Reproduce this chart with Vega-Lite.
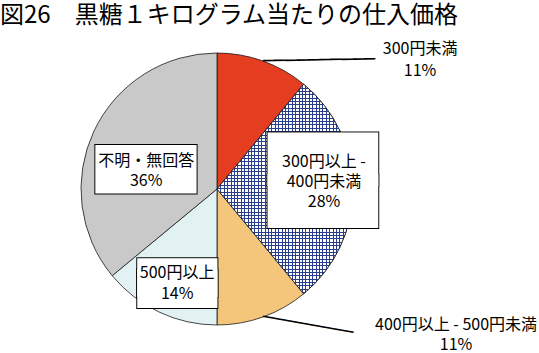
{"$schema":"https://vega.github.io/schema/vega-lite/v6.json","width":434,"height":298,"autosize":{"type":"none"},"padding":{"left":0,"top":40,"right":105,"bottom":15},"background":"white","title":{"text":"図26　黒糖１キログラム当たりの仕入価格","anchor":"start","frame":"group","font":"Noto Sans CJK JP","fontSize":24,"fontWeight":"normal","color":"black","offset":12},"data":{"values":[{"category":"300円未満","percent":11},{"category":"300円以上 - 400円未満","percent":28},{"category":"400円以上 - 500円未満","percent":11},{"category":"500円以上","percent":14},{"category":"不明・無回答","percent":36}]},"transform":[{"stack":"percent","groupby":[],"as":["s0","s1"]},{"calculate":"(datum.s0 + datum.s1) / 2","as":"mid"},{"calculate":"datum.category + '\\n' + datum.percent + '%'","as":"lab"}],"config":{"view":{"stroke":null}},"layer":[{"mark":{"type":"arc","radius":136,"stroke":"#1a1a1a","strokeWidth":0.8},"encoding":{"theta":{"field":"s0","type":"quantitative","scale":{"domain":[0,100]},"stack":null},"theta2":{"field":"s1"},"color":{"field":"category","type":"nominal","legend":null,"scale":{"domain":["300円未満","300円以上 - 400円未満","400円以上 - 500円未満","500円以上","不明・無回答"],"range":["#e43d20","#ffffff","#f3c67c","#e2f1f1","#c9c9c9"]}}}},{"transform":[{"filter":"datum.category === '300円以上 - 400円未満'"}],"mark":{"type":"arc","radius":136,"fill":{"gradient":"linear","x1":0,"y1":0,"x2":1,"y2":0,"stops":[{"offset":0,"color":"#2a3e8e"},{"offset":0.0074,"color":"#2a3e8e"},{"offset":0.0074,"color":"#fff"},{"offset":0.025,"color":"#fff"},{"offset":0.025,"color":"#2a3e8e"},{"offset":0.0324,"color":"#2a3e8e"},{"offset":0.0324,"color":"#fff"},{"offset":0.05,"color":"#fff"},{"offset":0.05,"color":"#2a3e8e"},{"offset":0.0574,"color":"#2a3e8e"},{"offset":0.0574,"color":"#fff"},{"offset":0.075,"color":"#fff"},{"offset":0.075,"color":"#2a3e8e"},{"offset":0.0824,"color":"#2a3e8e"},{"offset":0.0824,"color":"#fff"},{"offset":0.1,"color":"#fff"},{"offset":0.1,"color":"#2a3e8e"},{"offset":0.1074,"color":"#2a3e8e"},{"offset":0.1074,"color":"#fff"},{"offset":0.125,"color":"#fff"},{"offset":0.125,"color":"#2a3e8e"},{"offset":0.1324,"color":"#2a3e8e"},{"offset":0.1324,"color":"#fff"},{"offset":0.15,"color":"#fff"},{"offset":0.15,"color":"#2a3e8e"},{"offset":0.1574,"color":"#2a3e8e"},{"offset":0.1574,"color":"#fff"},{"offset":0.175,"color":"#fff"},{"offset":0.175,"color":"#2a3e8e"},{"offset":0.1824,"color":"#2a3e8e"},{"offset":0.1824,"color":"#fff"},{"offset":0.2,"color":"#fff"},{"offset":0.2,"color":"#2a3e8e"},{"offset":0.2074,"color":"#2a3e8e"},{"offset":0.2074,"color":"#fff"},{"offset":0.225,"color":"#fff"},{"offset":0.225,"color":"#2a3e8e"},{"offset":0.2324,"color":"#2a3e8e"},{"offset":0.2324,"color":"#fff"},{"offset":0.25,"color":"#fff"},{"offset":0.25,"color":"#2a3e8e"},{"offset":0.2574,"color":"#2a3e8e"},{"offset":0.2574,"color":"#fff"},{"offset":0.275,"color":"#fff"},{"offset":0.275,"color":"#2a3e8e"},{"offset":0.2824,"color":"#2a3e8e"},{"offset":0.2824,"color":"#fff"},{"offset":0.3,"color":"#fff"},{"offset":0.3,"color":"#2a3e8e"},{"offset":0.3074,"color":"#2a3e8e"},{"offset":0.3074,"color":"#fff"},{"offset":0.325,"color":"#fff"},{"offset":0.325,"color":"#2a3e8e"},{"offset":0.3324,"color":"#2a3e8e"},{"offset":0.3324,"color":"#fff"},{"offset":0.35,"color":"#fff"},{"offset":0.35,"color":"#2a3e8e"},{"offset":0.3574,"color":"#2a3e8e"},{"offset":0.3574,"color":"#fff"},{"offset":0.375,"color":"#fff"},{"offset":0.375,"color":"#2a3e8e"},{"offset":0.3824,"color":"#2a3e8e"},{"offset":0.3824,"color":"#fff"},{"offset":0.4,"color":"#fff"},{"offset":0.4,"color":"#2a3e8e"},{"offset":0.4074,"color":"#2a3e8e"},{"offset":0.4074,"color":"#fff"},{"offset":0.425,"color":"#fff"},{"offset":0.425,"color":"#2a3e8e"},{"offset":0.4324,"color":"#2a3e8e"},{"offset":0.4324,"color":"#fff"},{"offset":0.45,"color":"#fff"},{"offset":0.45,"color":"#2a3e8e"},{"offset":0.4574,"color":"#2a3e8e"},{"offset":0.4574,"color":"#fff"},{"offset":0.475,"color":"#fff"},{"offset":0.475,"color":"#2a3e8e"},{"offset":0.4824,"color":"#2a3e8e"},{"offset":0.4824,"color":"#fff"},{"offset":0.5,"color":"#fff"},{"offset":0.5,"color":"#2a3e8e"},{"offset":0.5074,"color":"#2a3e8e"},{"offset":0.5074,"color":"#fff"},{"offset":0.525,"color":"#fff"},{"offset":0.525,"color":"#2a3e8e"},{"offset":0.5324,"color":"#2a3e8e"},{"offset":0.5324,"color":"#fff"},{"offset":0.55,"color":"#fff"},{"offset":0.55,"color":"#2a3e8e"},{"offset":0.5574,"color":"#2a3e8e"},{"offset":0.5574,"color":"#fff"},{"offset":0.575,"color":"#fff"},{"offset":0.575,"color":"#2a3e8e"},{"offset":0.5824,"color":"#2a3e8e"},{"offset":0.5824,"color":"#fff"},{"offset":0.6,"color":"#fff"},{"offset":0.6,"color":"#2a3e8e"},{"offset":0.6074,"color":"#2a3e8e"},{"offset":0.6074,"color":"#fff"},{"offset":0.625,"color":"#fff"},{"offset":0.625,"color":"#2a3e8e"},{"offset":0.6324,"color":"#2a3e8e"},{"offset":0.6324,"color":"#fff"},{"offset":0.65,"color":"#fff"},{"offset":0.65,"color":"#2a3e8e"},{"offset":0.6574,"color":"#2a3e8e"},{"offset":0.6574,"color":"#fff"},{"offset":0.675,"color":"#fff"},{"offset":0.675,"color":"#2a3e8e"},{"offset":0.6824,"color":"#2a3e8e"},{"offset":0.6824,"color":"#fff"},{"offset":0.7,"color":"#fff"},{"offset":0.7,"color":"#2a3e8e"},{"offset":0.7074,"color":"#2a3e8e"},{"offset":0.7074,"color":"#fff"},{"offset":0.725,"color":"#fff"},{"offset":0.725,"color":"#2a3e8e"},{"offset":0.7324,"color":"#2a3e8e"},{"offset":0.7324,"color":"#fff"},{"offset":0.75,"color":"#fff"},{"offset":0.75,"color":"#2a3e8e"},{"offset":0.7574,"color":"#2a3e8e"},{"offset":0.7574,"color":"#fff"},{"offset":0.775,"color":"#fff"},{"offset":0.775,"color":"#2a3e8e"},{"offset":0.7824,"color":"#2a3e8e"},{"offset":0.7824,"color":"#fff"},{"offset":0.8,"color":"#fff"},{"offset":0.8,"color":"#2a3e8e"},{"offset":0.8074,"color":"#2a3e8e"},{"offset":0.8074,"color":"#fff"},{"offset":0.825,"color":"#fff"},{"offset":0.825,"color":"#2a3e8e"},{"offset":0.8324,"color":"#2a3e8e"},{"offset":0.8324,"color":"#fff"},{"offset":0.85,"color":"#fff"},{"offset":0.85,"color":"#2a3e8e"},{"offset":0.8574,"color":"#2a3e8e"},{"offset":0.8574,"color":"#fff"},{"offset":0.875,"color":"#fff"},{"offset":0.875,"color":"#2a3e8e"},{"offset":0.8824,"color":"#2a3e8e"},{"offset":0.8824,"color":"#fff"},{"offset":0.9,"color":"#fff"},{"offset":0.9,"color":"#2a3e8e"},{"offset":0.9074,"color":"#2a3e8e"},{"offset":0.9074,"color":"#fff"},{"offset":0.925,"color":"#fff"},{"offset":0.925,"color":"#2a3e8e"},{"offset":0.9324,"color":"#2a3e8e"},{"offset":0.9324,"color":"#fff"},{"offset":0.95,"color":"#fff"},{"offset":0.95,"color":"#2a3e8e"},{"offset":0.9574,"color":"#2a3e8e"},{"offset":0.9574,"color":"#fff"},{"offset":0.975,"color":"#fff"},{"offset":0.975,"color":"#2a3e8e"},{"offset":0.9824,"color":"#2a3e8e"},{"offset":0.9824,"color":"#fff"},{"offset":1,"color":"#fff"}]}},"encoding":{"theta":{"field":"s0","type":"quantitative","stack":null},"theta2":{"field":"s1"}}},{"transform":[{"filter":"datum.category === '300円以上 - 400円未満'"}],"mark":{"type":"arc","radius":136,"stroke":"#1a1a1a","strokeWidth":0.8,"fill":{"gradient":"linear","x1":0,"y1":0,"x2":0,"y2":1,"stops":[{"offset":0,"color":"#2a3e8e"},{"offset":0.0048,"color":"#2a3e8e"},{"offset":0.0048,"color":"#0000"},{"offset":0.016,"color":"#0000"},{"offset":0.016,"color":"#2a3e8e"},{"offset":0.0208,"color":"#2a3e8e"},{"offset":0.0208,"color":"#0000"},{"offset":0.032,"color":"#0000"},{"offset":0.032,"color":"#2a3e8e"},{"offset":0.0368,"color":"#2a3e8e"},{"offset":0.0368,"color":"#0000"},{"offset":0.048,"color":"#0000"},{"offset":0.048,"color":"#2a3e8e"},{"offset":0.0528,"color":"#2a3e8e"},{"offset":0.0528,"color":"#0000"},{"offset":0.064,"color":"#0000"},{"offset":0.064,"color":"#2a3e8e"},{"offset":0.0688,"color":"#2a3e8e"},{"offset":0.0688,"color":"#0000"},{"offset":0.08,"color":"#0000"},{"offset":0.08,"color":"#2a3e8e"},{"offset":0.0848,"color":"#2a3e8e"},{"offset":0.0848,"color":"#0000"},{"offset":0.096,"color":"#0000"},{"offset":0.096,"color":"#2a3e8e"},{"offset":0.1008,"color":"#2a3e8e"},{"offset":0.1008,"color":"#0000"},{"offset":0.112,"color":"#0000"},{"offset":0.112,"color":"#2a3e8e"},{"offset":0.1168,"color":"#2a3e8e"},{"offset":0.1168,"color":"#0000"},{"offset":0.128,"color":"#0000"},{"offset":0.128,"color":"#2a3e8e"},{"offset":0.1328,"color":"#2a3e8e"},{"offset":0.1328,"color":"#0000"},{"offset":0.144,"color":"#0000"},{"offset":0.144,"color":"#2a3e8e"},{"offset":0.1488,"color":"#2a3e8e"},{"offset":0.1488,"color":"#0000"},{"offset":0.16,"color":"#0000"},{"offset":0.16,"color":"#2a3e8e"},{"offset":0.1648,"color":"#2a3e8e"},{"offset":0.1648,"color":"#0000"},{"offset":0.176,"color":"#0000"},{"offset":0.176,"color":"#2a3e8e"},{"offset":0.1808,"color":"#2a3e8e"},{"offset":0.1808,"color":"#0000"},{"offset":0.192,"color":"#0000"},{"offset":0.192,"color":"#2a3e8e"},{"offset":0.1968,"color":"#2a3e8e"},{"offset":0.1968,"color":"#0000"},{"offset":0.208,"color":"#0000"},{"offset":0.208,"color":"#2a3e8e"},{"offset":0.2128,"color":"#2a3e8e"},{"offset":0.2128,"color":"#0000"},{"offset":0.224,"color":"#0000"},{"offset":0.224,"color":"#2a3e8e"},{"offset":0.2288,"color":"#2a3e8e"},{"offset":0.2288,"color":"#0000"},{"offset":0.24,"color":"#0000"},{"offset":0.24,"color":"#2a3e8e"},{"offset":0.2448,"color":"#2a3e8e"},{"offset":0.2448,"color":"#0000"},{"offset":0.256,"color":"#0000"},{"offset":0.256,"color":"#2a3e8e"},{"offset":0.2608,"color":"#2a3e8e"},{"offset":0.2608,"color":"#0000"},{"offset":0.272,"color":"#0000"},{"offset":0.272,"color":"#2a3e8e"},{"offset":0.2768,"color":"#2a3e8e"},{"offset":0.2768,"color":"#0000"},{"offset":0.288,"color":"#0000"},{"offset":0.288,"color":"#2a3e8e"},{"offset":0.2928,"color":"#2a3e8e"},{"offset":0.2928,"color":"#0000"},{"offset":0.304,"color":"#0000"},{"offset":0.304,"color":"#2a3e8e"},{"offset":0.3088,"color":"#2a3e8e"},{"offset":0.3088,"color":"#0000"},{"offset":0.32,"color":"#0000"},{"offset":0.32,"color":"#2a3e8e"},{"offset":0.3248,"color":"#2a3e8e"},{"offset":0.3248,"color":"#0000"},{"offset":0.336,"color":"#0000"},{"offset":0.336,"color":"#2a3e8e"},{"offset":0.3408,"color":"#2a3e8e"},{"offset":0.3408,"color":"#0000"},{"offset":0.352,"color":"#0000"},{"offset":0.352,"color":"#2a3e8e"},{"offset":0.3568,"color":"#2a3e8e"},{"offset":0.3568,"color":"#0000"},{"offset":0.368,"color":"#0000"},{"offset":0.368,"color":"#2a3e8e"},{"offset":0.3728,"color":"#2a3e8e"},{"offset":0.3728,"color":"#0000"},{"offset":0.384,"color":"#0000"},{"offset":0.384,"color":"#2a3e8e"},{"offset":0.3888,"color":"#2a3e8e"},{"offset":0.3888,"color":"#0000"},{"offset":0.4,"color":"#0000"},{"offset":0.4,"color":"#2a3e8e"},{"offset":0.4048,"color":"#2a3e8e"},{"offset":0.4048,"color":"#0000"},{"offset":0.416,"color":"#0000"},{"offset":0.416,"color":"#2a3e8e"},{"offset":0.4208,"color":"#2a3e8e"},{"offset":0.4208,"color":"#0000"},{"offset":0.432,"color":"#0000"},{"offset":0.432,"color":"#2a3e8e"},{"offset":0.4368,"color":"#2a3e8e"},{"offset":0.4368,"color":"#0000"},{"offset":0.448,"color":"#0000"},{"offset":0.448,"color":"#2a3e8e"},{"offset":0.4528,"color":"#2a3e8e"},{"offset":0.4528,"color":"#0000"},{"offset":0.464,"color":"#0000"},{"offset":0.464,"color":"#2a3e8e"},{"offset":0.4688,"color":"#2a3e8e"},{"offset":0.4688,"color":"#0000"},{"offset":0.48,"color":"#0000"},{"offset":0.48,"color":"#2a3e8e"},{"offset":0.4848,"color":"#2a3e8e"},{"offset":0.4848,"color":"#0000"},{"offset":0.496,"color":"#0000"},{"offset":0.496,"color":"#2a3e8e"},{"offset":0.5008,"color":"#2a3e8e"},{"offset":0.5008,"color":"#0000"},{"offset":0.512,"color":"#0000"},{"offset":0.512,"color":"#2a3e8e"},{"offset":0.5168,"color":"#2a3e8e"},{"offset":0.5168,"color":"#0000"},{"offset":0.528,"color":"#0000"},{"offset":0.528,"color":"#2a3e8e"},{"offset":0.5328,"color":"#2a3e8e"},{"offset":0.5328,"color":"#0000"},{"offset":0.544,"color":"#0000"},{"offset":0.544,"color":"#2a3e8e"},{"offset":0.5488,"color":"#2a3e8e"},{"offset":0.5488,"color":"#0000"},{"offset":0.56,"color":"#0000"},{"offset":0.56,"color":"#2a3e8e"},{"offset":0.5648,"color":"#2a3e8e"},{"offset":0.5648,"color":"#0000"},{"offset":0.576,"color":"#0000"},{"offset":0.576,"color":"#2a3e8e"},{"offset":0.5808,"color":"#2a3e8e"},{"offset":0.5808,"color":"#0000"},{"offset":0.592,"color":"#0000"},{"offset":0.592,"color":"#2a3e8e"},{"offset":0.5968,"color":"#2a3e8e"},{"offset":0.5968,"color":"#0000"},{"offset":0.608,"color":"#0000"},{"offset":0.608,"color":"#2a3e8e"},{"offset":0.6128,"color":"#2a3e8e"},{"offset":0.6128,"color":"#0000"},{"offset":0.624,"color":"#0000"},{"offset":0.624,"color":"#2a3e8e"},{"offset":0.6288,"color":"#2a3e8e"},{"offset":0.6288,"color":"#0000"},{"offset":0.64,"color":"#0000"},{"offset":0.64,"color":"#2a3e8e"},{"offset":0.6448,"color":"#2a3e8e"},{"offset":0.6448,"color":"#0000"},{"offset":0.656,"color":"#0000"},{"offset":0.656,"color":"#2a3e8e"},{"offset":0.6608,"color":"#2a3e8e"},{"offset":0.6608,"color":"#0000"},{"offset":0.672,"color":"#0000"},{"offset":0.672,"color":"#2a3e8e"},{"offset":0.6768,"color":"#2a3e8e"},{"offset":0.6768,"color":"#0000"},{"offset":0.688,"color":"#0000"},{"offset":0.688,"color":"#2a3e8e"},{"offset":0.6928,"color":"#2a3e8e"},{"offset":0.6928,"color":"#0000"},{"offset":0.704,"color":"#0000"},{"offset":0.704,"color":"#2a3e8e"},{"offset":0.7088,"color":"#2a3e8e"},{"offset":0.7088,"color":"#0000"},{"offset":0.72,"color":"#0000"},{"offset":0.72,"color":"#2a3e8e"},{"offset":0.7248,"color":"#2a3e8e"},{"offset":0.7248,"color":"#0000"},{"offset":0.736,"color":"#0000"},{"offset":0.736,"color":"#2a3e8e"},{"offset":0.7408,"color":"#2a3e8e"},{"offset":0.7408,"color":"#0000"},{"offset":0.752,"color":"#0000"},{"offset":0.752,"color":"#2a3e8e"},{"offset":0.7568,"color":"#2a3e8e"},{"offset":0.7568,"color":"#0000"},{"offset":0.768,"color":"#0000"},{"offset":0.768,"color":"#2a3e8e"},{"offset":0.7728,"color":"#2a3e8e"},{"offset":0.7728,"color":"#0000"},{"offset":0.784,"color":"#0000"},{"offset":0.784,"color":"#2a3e8e"},{"offset":0.7888,"color":"#2a3e8e"},{"offset":0.7888,"color":"#0000"},{"offset":0.8,"color":"#0000"},{"offset":0.8,"color":"#2a3e8e"},{"offset":0.8048,"color":"#2a3e8e"},{"offset":0.8048,"color":"#0000"},{"offset":0.816,"color":"#0000"},{"offset":0.816,"color":"#2a3e8e"},{"offset":0.8208,"color":"#2a3e8e"},{"offset":0.8208,"color":"#0000"},{"offset":0.832,"color":"#0000"},{"offset":0.832,"color":"#2a3e8e"},{"offset":0.8368,"color":"#2a3e8e"},{"offset":0.8368,"color":"#0000"},{"offset":0.848,"color":"#0000"},{"offset":0.848,"color":"#2a3e8e"},{"offset":0.8528,"color":"#2a3e8e"},{"offset":0.8528,"color":"#0000"},{"offset":0.864,"color":"#0000"},{"offset":0.864,"color":"#2a3e8e"},{"offset":0.8688,"color":"#2a3e8e"},{"offset":0.8688,"color":"#0000"},{"offset":0.88,"color":"#0000"},{"offset":0.88,"color":"#2a3e8e"},{"offset":0.8848,"color":"#2a3e8e"},{"offset":0.8848,"color":"#0000"},{"offset":0.896,"color":"#0000"},{"offset":0.896,"color":"#2a3e8e"},{"offset":0.9008,"color":"#2a3e8e"},{"offset":0.9008,"color":"#0000"},{"offset":0.912,"color":"#0000"},{"offset":0.912,"color":"#2a3e8e"},{"offset":0.9168,"color":"#2a3e8e"},{"offset":0.9168,"color":"#0000"},{"offset":0.928,"color":"#0000"},{"offset":0.928,"color":"#2a3e8e"},{"offset":0.9328,"color":"#2a3e8e"},{"offset":0.9328,"color":"#0000"},{"offset":0.944,"color":"#0000"},{"offset":0.944,"color":"#2a3e8e"},{"offset":0.9488,"color":"#2a3e8e"},{"offset":0.9488,"color":"#0000"},{"offset":0.96,"color":"#0000"},{"offset":0.96,"color":"#2a3e8e"},{"offset":0.9648,"color":"#2a3e8e"},{"offset":0.9648,"color":"#0000"},{"offset":0.976,"color":"#0000"},{"offset":0.976,"color":"#2a3e8e"},{"offset":0.9808,"color":"#2a3e8e"},{"offset":0.9808,"color":"#0000"},{"offset":0.992,"color":"#0000"},{"offset":0.992,"color":"#2a3e8e"},{"offset":0.9968,"color":"#2a3e8e"},{"offset":0.9968,"color":"#0000"},{"offset":1,"color":"#0000"}]}},"encoding":{"theta":{"field":"s0","type":"quantitative","stack":null},"theta2":{"field":"s1"}}},{"transform":[{"filter":"datum.category === '300円未満'"}],"mark":{"type":"text","text":"──────────","font":"DejaVu Sans Mono","fontSize":18.6,"align":"left","baseline":"middle","angle":359,"radius":136,"color":"black"},"encoding":{"theta":{"field":"mid","type":"quantitative"}}},{"transform":[{"filter":"datum.category === '400円以上 - 500円未満'"}],"mark":{"type":"text","text":"────────","font":"DejaVu Sans Mono","fontSize":19,"align":"left","baseline":"middle","angle":10,"radius":136,"color":"black"},"encoding":{"theta":{"field":"mid","type":"quantitative"}}},{"transform":[{"filter":"datum.category === '不明・無回答'"}],"mark":{"type":"text","text":"▬","font":"DejaVu Sans","fontSize":134,"fill":"white","stroke":"black","strokeWidth":1,"align":"center","baseline":"middle","radius":75,"dx":-3,"dy":6.5},"encoding":{"theta":{"field":"mid","type":"quantitative"}}},{"transform":[{"filter":"datum.category === '500円以上'"}],"mark":{"type":"text","text":"▬\n▬","lineBreak":"\n","lineHeight":11,"font":"DejaVu Sans","fontSize":105,"fill":"white","stroke":"black","strokeWidth":2,"align":"center","baseline":"middle","radius":103,"dx":4,"dy":-9.5},"encoding":{"theta":{"field":"mid","type":"quantitative"}}},{"transform":[{"filter":"datum.category === '500円以上'"}],"mark":{"type":"text","text":"▬\n▬","lineBreak":"\n","lineHeight":11,"font":"DejaVu Sans","fontSize":105,"fill":"white","align":"center","baseline":"middle","radius":103,"dx":4,"dy":-9.5},"encoding":{"theta":{"field":"mid","type":"quantitative"}}},{"transform":[{"filter":"datum.category === '300円以上 - 400円未満'"}],"mark":{"type":"text","text":"▬\n▬","lineBreak":"\n","lineHeight":42,"font":"DejaVu Sans","fontSize":145,"fill":"white","stroke":"black","strokeWidth":2,"align":"center","baseline":"middle","radius":106,"dy":-36},"encoding":{"theta":{"field":"mid","type":"quantitative"}}},{"transform":[{"filter":"datum.category === '300円以上 - 400円未満'"}],"mark":{"type":"text","text":"▬\n▬","lineBreak":"\n","lineHeight":42,"font":"DejaVu Sans","fontSize":145,"fill":"white","align":"center","baseline":"middle","radius":106,"dy":-36},"encoding":{"theta":{"field":"mid","type":"quantitative"}}},{"transform":[{"filter":"datum.category === '不明・無回答'"}],"mark":{"type":"text","font":"Noto Sans CJK JP","fontSize":16,"lineHeight":20,"lineBreak":"\n","align":"center","baseline":"middle","color":"black","radius":75,"dx":-3,"dy":4},"encoding":{"theta":{"field":"mid","type":"quantitative"},"text":{"field":"lab"}}},{"transform":[{"filter":"datum.category === '500円以上'"}],"mark":{"type":"text","font":"Noto Sans CJK JP","fontSize":16,"lineHeight":21,"lineBreak":"\n","align":"center","baseline":"middle","color":"black","radius":103,"dx":4,"dy":-9.5},"encoding":{"theta":{"field":"mid","type":"quantitative"},"text":{"field":"lab"}}},{"transform":[{"filter":"datum.category === '300円未満'"}],"mark":{"type":"text","font":"Noto Sans CJK JP","fontSize":16,"lineHeight":22,"lineBreak":"\n","align":"center","baseline":"middle","color":"black","radius":136,"dx":157,"dy":-12},"encoding":{"theta":{"field":"mid","type":"quantitative"},"text":{"field":"lab"}}},{"transform":[{"filter":"datum.category === '300円以上 - 400円未満'"},{"calculate":"replace(datum.category, ' - ', ' -\\n') + '\\n' + datum.percent + '%'","as":"lab2"}],"mark":{"type":"text","font":"Noto Sans CJK JP","fontSize":16,"lineHeight":20,"lineBreak":"\n","align":"center","baseline":"middle","color":"black","radius":107,"dy":-27},"encoding":{"theta":{"field":"mid","type":"quantitative"},"text":{"field":"lab2"}}},{"transform":[{"filter":"datum.category === '400円以上 - 500円未満'"}],"mark":{"type":"text","font":"Noto Sans CJK JP","fontSize":16,"lineHeight":20,"lineBreak":"\n","align":"center","baseline":"middle","color":"black","radius":136,"dx":193,"dy":8},"encoding":{"theta":{"field":"mid","type":"quantitative"},"text":{"field":"lab"}}}]}
